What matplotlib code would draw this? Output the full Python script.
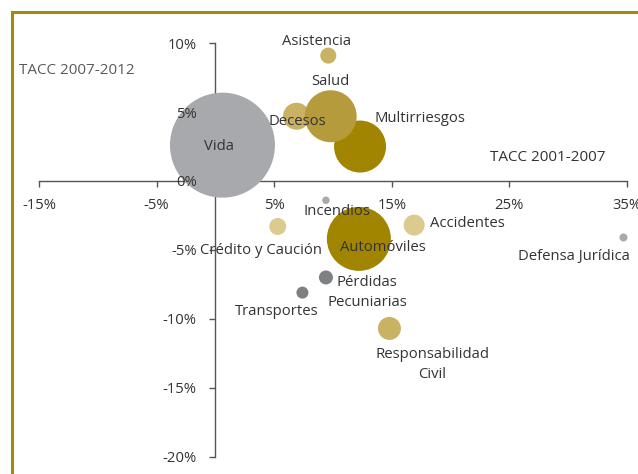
import matplotlib
matplotlib.use("Agg")
import matplotlib.pyplot as plt
from matplotlib.lines import Line2D
from matplotlib.ticker import FuncFormatter

plt.rcParams['font.family'] = ['Open Sans', 'DejaVu Sans']

# ---- data ----
ramos = ["Vida", "Asistencia", "Decesos", "Multirriesgos", "Salud", "Incendios",
         "Crédito y Caución", "Automóviles", "Accidentes", "Defensa Jurídica",
         "Pérdidas\nPecuniarias", "Transportes", "Responsabilidad\nCivil"]
tacc_2001_2007 = [0.6, 9.6, 6.9, 12.3, 9.8, 9.4, 5.3, 12.2, 16.9, 34.7, 9.4, 7.4, 14.8]
tacc_2007_2012 = [2.6, 9.1, 4.7, 2.5, 4.7, -1.4, -3.3, -4.2, -3.2, -4.1, -7.0, -8.1, -10.7]
volumen = [2756, 64, 182, 676, 676, 14, 72, 1024, 110, 16, 49, 36, 132]
x_ticks = [-15, -5, 5, 15, 25, 35]
y_ticks = [-20, -15, -10, -5, 0, 5, 10]

# ---- styles ----
colores = ["#a7a9ac", "#c9b264", "#c9b264", "#a18500", "#b59b3c", "#a7a9ac",
           "#dccb8f", "#a18500", "#dccb8f", "#a7a9ac", "#7f8084", "#7f8084", "#c9b264"]
offsets = [(-3.5, -1), (-12, 14), (1, -5), (60, 28), (0, 35), (11, -11),
           (-17, -24), (24, -9), (53.5, 2), (-49.5, -19), (41, -15), (-26, -19), (43, -36)]
FS = 10.7
TXT = '#333333'
AX_C = '#555555'

W, H = 638, 474
fig = plt.figure(figsize=(W / 100, H / 100), dpi=100)
ax = fig.add_axes([0, 0, 1, 1])
ax.patch.set_alpha(0)

x0, sx = 215.4, 11.76
y0, sy = 181.0, 13.78
xlim = (-x0 / sx, (W - x0) / sx)
ylim = (-(H - y0) / sy, y0 / sy)
ax.set_xlim(*xlim)
ax.set_ylim(*ylim)

px2pt = 0.72
for i in range(len(ramos)):
    ax.scatter([tacc_2001_2007[i]], [tacc_2007_2012[i]], s=volumen[i] * 4 * px2pt ** 2,
               color=colores[i], edgecolors='none', zorder=2)

for i in range(len(ramos)):
    dx, dy = offsets[i]
    ax.annotate(ramos[i], (tacc_2001_2007[i], tacc_2007_2012[i]),
                xytext=(dx * px2pt, dy * px2pt), textcoords='offset points',
                ha='center', va='center', fontsize=FS, color=TXT,
                linespacing=1.4, zorder=5)

# axes through origin (lines and tick marks under the bubbles)
for side in ['top', 'right']:
    ax.spines[side].set_visible(False)
ax.spines['left'].set_position(('data', 0))
ax.spines['bottom'].set_position(('data', 0))
ax.spines['left'].set_bounds(y_ticks[0], y_ticks[-1])
ax.spines['bottom'].set_bounds(x_ticks[0], x_ticks[-1])
for side in ['left', 'bottom']:
    ax.spines[side].set_color(AX_C)
    ax.spines[side].set_linewidth(1.0)
    ax.spines[side].set_zorder(1)
ax.xaxis.set_zorder(1)
ax.yaxis.set_zorder(1)
ax.set_xticks(x_ticks)
ax.set_yticks(y_ticks)
TL = 4.5
ax.tick_params(axis='both', direction='out', length=TL, width=1.0, color=AX_C,
               labelbottom=False, labelleft=False)

# overlay axes holding the tick labels, drawn above the bubbles
ax2 = fig.add_axes([0, 0, 1, 1], label='labels')
ax2.patch.set_alpha(0)
ax2.set_xlim(*xlim)
ax2.set_ylim(*ylim)
for side in ['top', 'right', 'left', 'bottom']:
    ax2.spines[side].set_visible(False)
ax2.spines['left'].set_position(('data', 0))
ax2.spines['bottom'].set_position(('data', 0))
ax2.set_xticks(x_ticks)
ax2.set_yticks(y_ticks)
fmt = FuncFormatter(lambda v, p: f"{v:.0f}%")
ax2.xaxis.set_major_formatter(fmt)
ax2.yaxis.set_major_formatter(fmt)
ax2.tick_params(axis='both', length=0, labelsize=FS, labelcolor=TXT)
ax2.tick_params(axis='x', pad=TL + 7.5)
ax2.tick_params(axis='y', pad=TL + 9.0)

ax2.text(548 / W, 1 - 158 / H, "TACC 2001-2007", transform=ax2.transAxes,
         ha='center', va='center', fontsize=FS + 0.3, color=TXT)
ax2.text(77 / W, 1 - 70 / H, "TACC 2007-2012", transform=ax2.transAxes,
         ha='center', va='center', fontsize=FS + 0.3, color='#5a5a5a')

# gold frame (left and top)
bx, by = 11.5 / W, 1 - 11.5 / H
fig.add_artist(Line2D([bx, bx], [0, by], transform=fig.transFigure,
                      color='#a08a10', lw=2.2, solid_capstyle='projecting'))
fig.add_artist(Line2D([bx, 1], [by, by], transform=fig.transFigure,
                      color='#a08a10', lw=2.2, solid_capstyle='projecting'))

fig.savefig("out.png", dpi=100)
